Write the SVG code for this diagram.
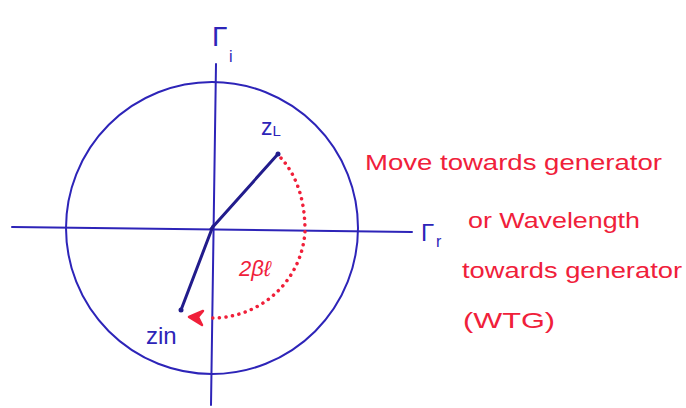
<svg xmlns="http://www.w3.org/2000/svg" width="686" height="408" viewBox="0 0 686 408">
<defs>
<style>
.blue{stroke:#2d24b8;fill:none;stroke-width:2;stroke-linecap:round}
.ray{stroke:#221c8c;fill:none;stroke-width:3;stroke-linecap:round}
.dots{stroke:#f0203a;fill:none;stroke-width:3.5;stroke-linecap:round;stroke-dasharray:0.1 6.5}
.bt{fill:#2d24b8;font-family:"Liberation Sans","DejaVu Sans",sans-serif}
.rt{fill:#f0203a;font-family:"Liberation Sans","DejaVu Sans",sans-serif;font-size:22px}
</style>
</defs>
<rect width="686" height="408" fill="#ffffff"/>
<g id="chart">
<circle class="blue" cx="212" cy="228" r="146"/>
<line class="blue" x1="12" y1="227" x2="412" y2="232"/>
<line class="blue" x1="216" y1="64" x2="211" y2="405"/>
<text class="bt" x="212" y="46" font-size="28">Γ</text>
<text class="bt" x="229" y="62" font-size="16">i</text>
<text class="bt" x="421" y="241" font-size="24">Γ</text>
<text class="bt" x="436" y="247" font-size="16">r</text>
</g>
<g id="connectors">
<line class="ray" x1="211" y1="229" x2="278" y2="154"/>
<line class="ray" x1="213" y1="226" x2="181" y2="310"/>
<path class="dots" d="M281,158 Q305,185 305,231 A93,92 0 0 1 210,318"/>
<path d="M203,311 L189,317 L202,325 L198,317 Z" fill="#f0203a" stroke="#f0203a" stroke-width="2.5" stroke-linejoin="round"/>
<text class="rt" x="239" y="276" font-style="italic">2βℓ</text>
</g>
<g id="zL">
<circle cx="278" cy="154" r="2.5" fill="#221c8c"/>
<text class="bt" x="261" y="135" font-size="23">z<tspan font-size="15" dy="1">L</tspan></text>
</g>
<g id="zin">
<circle cx="181" cy="310" r="2.5" fill="#221c8c"/>
<text class="bt" x="146" y="344" font-size="24">zin</text>
</g>
<g id="note">
<text class="rt" x="365" y="170" textLength="297" lengthAdjust="spacingAndGlyphs">Move towards generator</text>
<text class="rt" x="468" y="228" textLength="172" lengthAdjust="spacingAndGlyphs">or Wavelength</text>
<text class="rt" x="462" y="278" textLength="220" lengthAdjust="spacingAndGlyphs">towards generator</text>
<text class="rt" x="463" y="328" textLength="92" lengthAdjust="spacingAndGlyphs">(WTG)</text>
</g>
</svg>
